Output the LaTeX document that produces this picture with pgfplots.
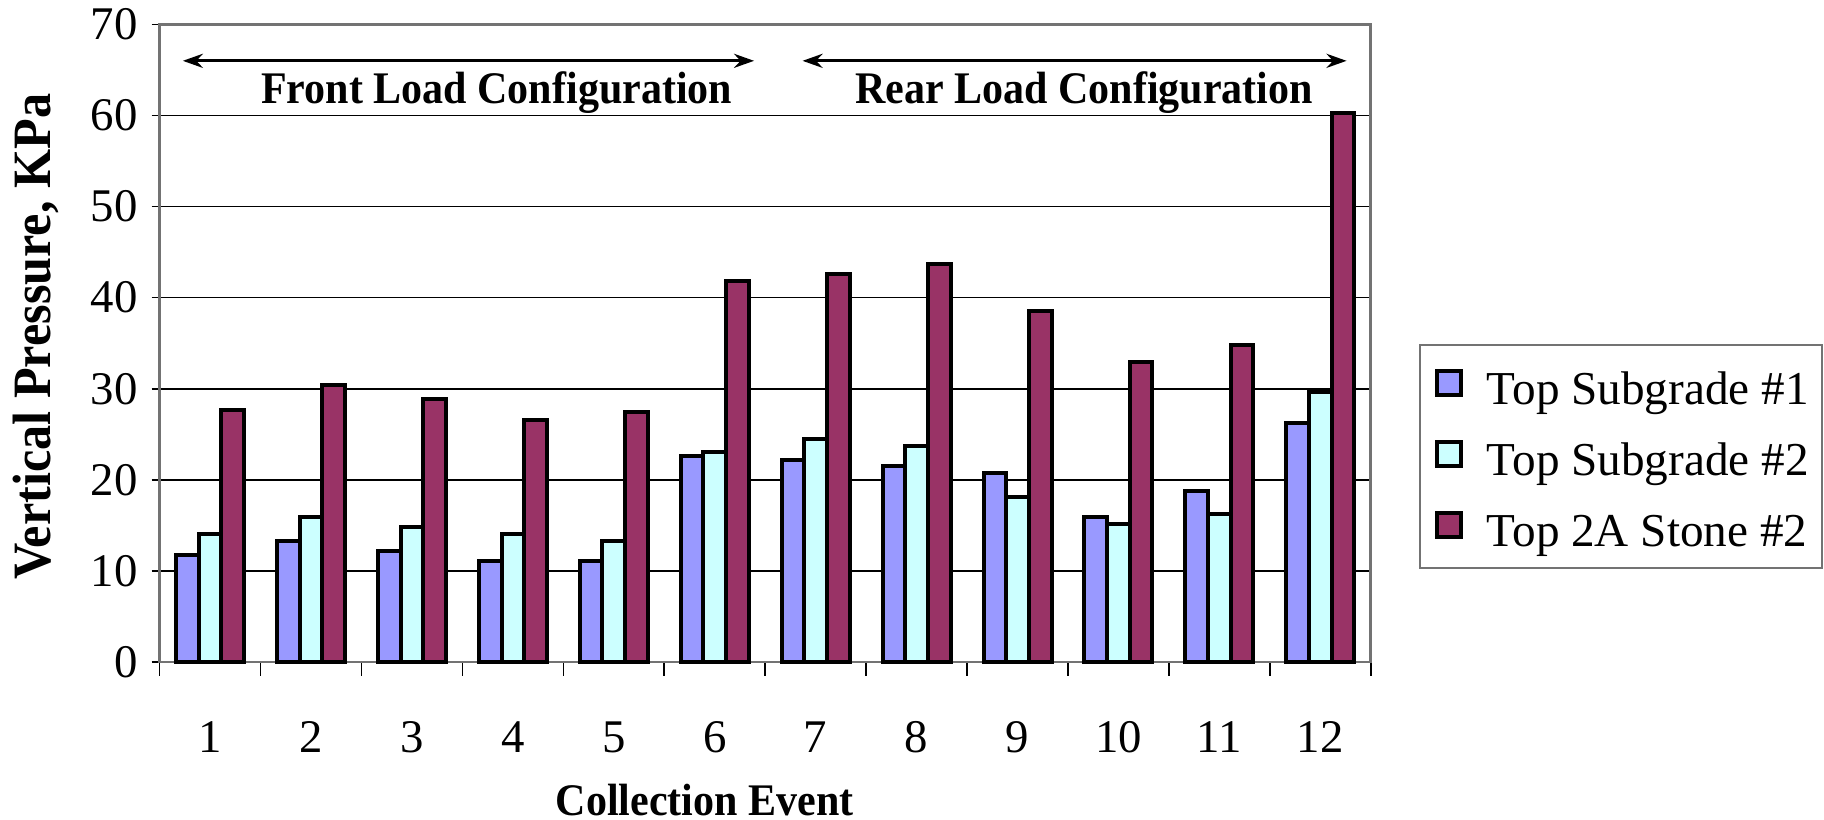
\documentclass[border=0pt]{standalone}
\usepackage{fontspec}
\setmainfont{Liberation Serif}
\newfontfamily\condfont[FakeStretch=0.93]{Liberation Serif}
\usepackage{pgfplots}
\usepackage{pgfplotstable}
\pgfplotsset{compat=1.18}
\usetikzlibrary{arrows.meta}
\definecolor{cA}{HTML}{9999FF}
\definecolor{cB}{HTML}{CCFFFF}
\definecolor{cC}{HTML}{993366}
\pgfplotstableread{
x A B C
1 11.8 14.1 27.7
2 13.3 15.9 30.4
3 12.2 14.8 28.9
4 11.1 14.1 26.6
5 11.1 13.3 27.4
6 22.6 23.0 41.8
7 22.2 24.5 42.6
8 21.5 23.7 43.7
9 20.7 18.1 38.5
10 15.9 15.2 32.9
11 18.8 16.3 34.8
12 26.2 29.6 60.3
}\datatable
\begin{document}
\begin{tikzpicture}
\useasboundingbox (0,0) rectangle (456pt,205pt);
\begin{axis}[
  at={(39.9pt,39.5pt)}, anchor=south west,
  scale only axis, width=302.8pt, height=159.4pt,
  xmin=0.5, xmax=12.5, ymin=0, ymax=70,
  ybar=0pt, bar width=5.67pt,
  xtick={1,...,12},
  minor xtick={0.5,1.5,...,12.5},
  major x tick style={draw=none},
  minor x tick style={black, line width=0.4pt},
  minor tick length=3.5pt,
  ytick={0,10,...,70},
  major tick length=2pt,
  tick align=outside,
  xtick pos=bottom, ytick pos=left,
  y tick style={black, line width=0.4pt},
  ymajorgrids,
  major grid style={black, line width=0.4pt},
  axis line style={draw=black!55, line width=0.7pt},
  /pgf/number format/assume math mode=true,
  tick label style={font=\fontsize{11.7}{14}\selectfont},
  xticklabel style={anchor=center, yshift=-16.8pt},
  yticklabel style={anchor=east},
  xlabel={Collection Event},
  ylabel={Vertical Pressure, KPa},
  xlabel style={font=\fontsize{11.3}{13}\selectfont\condfont\bfseries, at={(axis description cs:0.45,-0.216)}, anchor=center},
  ylabel style={font=\fontsize{13.5}{15}\selectfont\condfont\bfseries, at={(axis description cs:-0.102,0.51)}, anchor=center},
  legend style={at={(axis description cs:1.04,0.499)}, anchor=north west,
    draw=black!55, line width=0.5pt, inner xsep=3.4pt, inner ysep=5.4pt,
    font=\fontsize{11.8}{14}\selectfont, row sep=8.3pt, column sep=0pt,
    nodes={inner xsep=0pt, inner ysep=0pt, text height=8.1pt, text depth=0pt}},
  legend cell align=left,
  legend image code/.code={
    \path[use as bounding box, draw=none, fill=none] (-0.85pt,-2.7pt) rectangle (12.4pt,5.4pt);
    \draw[#1, line width=1pt] (0pt,-1.7pt) rectangle (6pt,4.3pt);},
  clip=false,
]
\addplot[fill=cA, draw=black, line width=1pt] table[x=x, y=A] {\datatable};
\addplot[fill=cB, draw=black, line width=1pt] table[x=x, y=B] {\datatable};
\addplot[fill=cC, draw=black, line width=1pt] table[x=x, y=C] {\datatable};
\legend{Top Subgrade \#1, Top Subgrade \#2, Top 2A Stone \#2}
\draw[{Stealth[length=5pt,width=3.5pt]}-{Stealth[length=5pt,width=3.5pt]}, line width=0.8pt] (axis cs:0.73,66) -- (axis cs:6.39,66);
\draw[{Stealth[length=5pt,width=3.5pt]}-{Stealth[length=5pt,width=3.5pt]}, line width=0.8pt] (axis cs:6.87,66) -- (axis cs:12.26,66);
\node[font=\fontsize{11.3}{13}\selectfont\condfont\bfseries] at (axis cs:3.84,62.5) {Front Load Configuration};
\node[font=\fontsize{11.3}{13}\selectfont\condfont\bfseries] at (axis cs:9.66,62.5) {Rear Load Configuration};
\end{axis}
\end{tikzpicture}
\end{document}
